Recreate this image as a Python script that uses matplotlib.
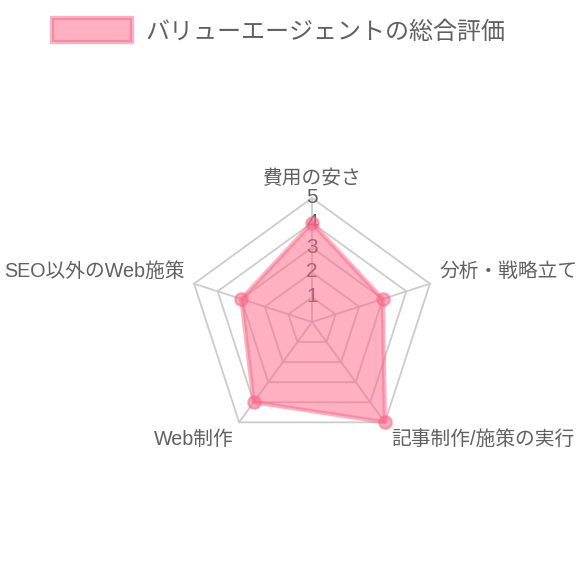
import numpy as np
import matplotlib
matplotlib.use('Agg')
import matplotlib.pyplot as plt
from matplotlib.patches import Patch

plt.rcParams['font.family'] = ['Liberation Sans', 'Noto Sans CJK JP']

labels = ['費用の安さ', '分析・戦略立て', '記事制作/施策の実行', 'Web制作', 'SEO以外のWeb施策']
values = [4, 3, 5, 4, 3]
ticks = [1, 2, 3, 4, 5]
series_name = 'バリューエージェントの総合評価'

W = 580
cx, cy = 312, 322     # centre in pixels (from top)
rpx = 124             # pixels for value 5
unit = rpx / 5.0

fig = plt.figure(figsize=(5.8, 5.8), dpi=100)
ax = fig.add_axes([0, 0, 1, 1])
ax.set_xlim(-cx / unit, (W - cx) / unit)
ax.set_ylim(-(W - cy) / unit, cy / unit)
ax.axis('off')

n = len(labels)
ang = np.arange(n) * 2 * np.pi / n   # 0 = straight up, clockwise
sx = np.sin(ang)
sy = np.cos(ang)

pink = (1, 99 / 255, 132 / 255)
grid_c = '#cccccc'
# grid pentagons
for t in ticks:
    ax.plot(np.append(sx, sx[0]) * t, np.append(sy, sy[0]) * t, color=grid_c, lw=1.3, zorder=1)
# angle lines
for i in range(n):
    ax.plot([0, sx[i] * ticks[-1]], [0, sy[i] * ticks[-1]], color=grid_c, lw=1.3, zorder=1)

# tick labels on the top axis (under the data)
for t in ticks:
    ax.text(0, t + 0.02, str(t), ha='center', va='center', fontsize=15, color='#606060', zorder=2)

# data
v = np.array(values, dtype=float)
px = np.append(sx * v, sx[0] * v[0])
py = np.append(sy * v, sy[0] * v[0])
ax.fill(px, py, color=pink + (0.5,), lw=0, zorder=3)
ax.plot(px, py, color=pink + (0.5,), lw=3, zorder=4, solid_joinstyle='round')
ax.plot(sx * v, sy * v, 'o', ms=9, mfc=pink + (0.55,), mec=pink + (0.55,), mew=1.5,
        ls='none', zorder=5)

# point labels
pad = 5 + 10 / unit
aligns = [('center', 'bottom'), ('left', 'bottom'), ('left', 'top'), ('right', 'top'), ('right', 'bottom')]
for i, lab in enumerate(labels):
    ha, va = aligns[i]
    ax.text(sx[i] * pad, sy[i] * pad, lab, ha=ha, va=va, fontsize=14.2, color='#606060')

handle = Patch(facecolor=pink + (0.5,), edgecolor=pink + (0.5,), lw=3)
fig.legend([handle], [series_name], loc='center', bbox_to_anchor=(0.48, 1 - 31 / 580),
           frameon=False, fontsize=17.3, handlelength=3.35, handleheight=1.15,
           handletextpad=0.55, labelcolor='#606060')

fig.savefig('out.png', dpi=100)
